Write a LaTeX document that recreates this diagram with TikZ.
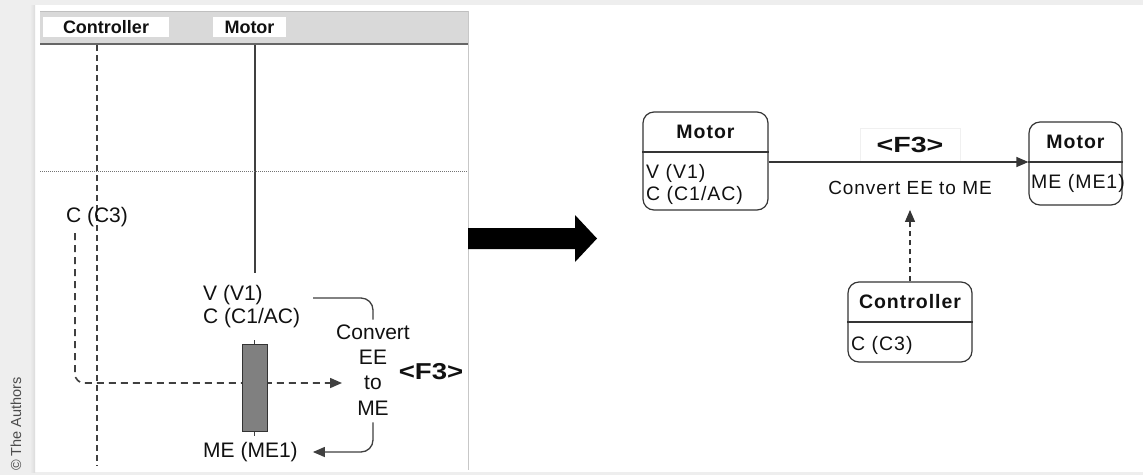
\documentclass[tikz,border=0pt]{standalone}
\usepackage{fontspec}
\usepackage{graphicx}
\setmainfont{Liberation Sans}
\newfontfamily\tracked[LetterSpace=5]{Liberation Sans}
\usetikzlibrary{arrows.meta}
\definecolor{stripgray}{HTML}{EEEEEE}
\definecolor{hdrgray}{HTML}{D9D9D9}
\definecolor{ink}{HTML}{111111}
\definecolor{linegray}{HTML}{404040}
\newcommand{\fsz}[1]{\fontsize{#1}{#1}\selectfont}
\newcommand{\widen}[2]{\scalebox{#1}[1]{#2}}

\begin{document}
\begin{tikzpicture}[x=1pt,y=-1pt,
  every node/.style={inner sep=0pt, text=ink},
  lanelabel/.style={fill=white, minimum width=126, minimum height=20, font=\fsz{18}\bfseries},
  lefttext/.style={font=\fsz{21}},
  tip/.style={-{Triangle[length=12,width=10]}},
  lifeline/.style={draw=linegray, line width=1.6pt, dash pattern=on 6pt off 4pt},
  flow/.style={draw=linegray, line width=1.3pt},
  umlbox/.style={draw=ink!85, line width=1.2pt, rounded corners=11pt},
  umlline/.style={draw=ink!85, line width=1.2pt},
  boxtitle/.style={font=\tracked\fsz{19.5}\bfseries},
  boxtext/.style={font=\tracked\fsz{19.5}, anchor=west},
]
\useasboundingbox (0,0) rectangle (1143,475);

% page frame and credit strip
\fill[stripgray] (0,0) rectangle (1143,475);
\fill[white] (35,5) rectangle (1143,472);
\shade[left color=stripgray, right color=black!14] (30,5) rectangle (35,472);
\node[rotate=90, anchor=west, font=\fsz{14.5}, text=black!70] (credit) at (16,471) {© The Authors};

% ---------- left panel: swim lanes ----------
\fill[hdrgray] (40,11) rectangle (468,43);
\draw[black!25] (40,11) -- (468,11);
\draw[black!60, line width=2pt] (40,44) -- (468,44);
\draw[black!22] (468,11) -- (468,470);

\node[lanelabel] (lctl) at (106,27) {Controller};
\node[lanelabel, minimum width=73] (lmot) at (249.5,27) {Motor};

\coordinate (ctltop) at (97,45);
\coordinate (ctlend) at (97,466);
\coordinate (mottop) at (255,45);
\coordinate (motend) at (255,273);
\draw[lifeline] (ctltop) -- (ctlend);
\draw[linegray, line width=1.2pt] (mottop) -- (motend);
\draw[black!55, line width=0.8pt, dash pattern=on 1pt off 1pt] (40,171) -- (468,171);

\node[lefttext] (c3) at (97,217) {C (C3)};
\node[lefttext, anchor=west] (v1) at (203,295) {V (V1)};
\node[lefttext, anchor=west] (c1) at (203,318) {C (C1/AC)};
\node[lefttext, anchor=west] (me1) at (203,452) {ME (ME1)};
\node[font=\fontsize{21}{25.3}\selectfont, align=center] (conv) at (373,370) {Convert\\EE\\to\\ME};
\node[font=\fsz{23}\bfseries] (f3l) at (431,372) {\widen{1.2}{<F3>}};

% control signal into the function
\coordinate (cstart) at (75,233);
\coordinate (dashend) at (342,383);
\draw[lifeline, dash pattern=on 7pt off 5pt, rounded corners=9pt, tip] (cstart) |- (dashend);

% activation bar on the motor lane
\node[draw=black!80, fill=black!50, line width=1pt, minimum width=25, minimum height=87] (act) at (254.5,387.5) {};
\draw[linegray] (act.north) -- ++(0,-4);
\draw[linegray] (act.south) -- ++(0,4);

% flows into and out of the function
\coordinate (vstart) at (313,298);
\draw[flow, rounded corners=12pt] (vstart) -| ([yshift=5pt]conv.north);
\draw[flow, rounded corners=12pt, tip] ([yshift=-7pt]conv.south) |- ([xshift=15pt]me1.east);

% transformation arrow
\fill[black] (468,228) -- (575,228) -- (575,215) -- (597,238.5) -- (575,262) -- (575,249) -- (468,249) -- cycle;

% ---------- right panel: function structure ----------
\node[umlbox, minimum width=125, minimum height=98] (m1) at (705.5,161) {};
\node[boxtitle] (m1t) at (705.5,132) {Motor};
\draw[umlline] (m1.west |- 0,152) -- (m1.east |- 0,152);
\node[boxtext] (m1a) at (646,173) {V (V1)};
\node[boxtext] (m1b) at (646,195) {C (C1/AC)};

\node[umlbox, minimum width=93, minimum height=83] (m2) at (1075.5,163.5) {};
\node[boxtitle] (m2t) at (1075.5,142) {Motor};
\draw[umlline] (m2.west |- 0,162) -- (m2.east |- 0,162);
\node[boxtext] (m2a) at (1031,183) {ME (ME1)};

\node[fill=white, draw=black!6, minimum width=100, minimum height=34, font=\fsz{22}\bfseries] (f3r) at (910,145) {\widen{1.3}{<F3>}};
\draw[umlline, tip] (m1.east |- 0,162) -- (m2.west |- 0,162);
\node[font=\tracked\fsz{19}] (conv2) at (910,188) {Convert EE to ME};

\node[umlbox, minimum width=124, minimum height=80] (ctl) at (910,322) {};
\node[boxtitle] (ctlt) at (910,302) {Controller};
\draw[umlline] (ctl.west |- 0,322) -- (ctl.east |- 0,322);
\node[boxtext] (ctla) at (851,345) {C (C3)};

\draw[umlline, dash pattern=on 5pt off 4pt, tip] (ctl.north) -- ([yshift=-15pt]conv2.south);
\end{tikzpicture}
\end{document}
